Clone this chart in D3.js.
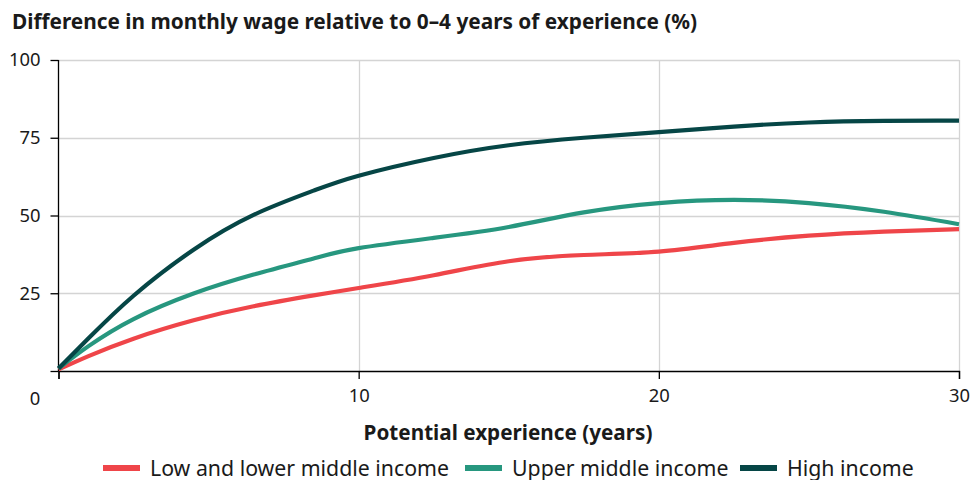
<!DOCTYPE html>
<html>
<head>
<meta charset="utf-8">
<script src="https://cdn.jsdelivr.net/npm/d3@7"></script>
<style>
  body { margin: 0; background: #fff; }
  svg { font-family: "Noto Sans", "Open Sans", sans-serif; }
</style>
</head>
<body>
<svg id="chart" width="972" height="480"></svg>
<script>
// data
let years = [0, 1, 2.5, 4.5, 6.5, 8.5, 10, 12.5, 15, 17.5, 20, 22.5, 25, 27.5, 30];
let lowIncome = [0.5, 4.8, 10.4, 16.3, 20.8, 24.3, 26.7, 30.8, 35.3, 37.3, 38.4, 41.2, 43.5, 44.8, 45.6];
let upperMiddle = [0.8, 8, 16.7, 24.9, 31, 36.2, 39.5, 42.8, 46.3, 51, 54, 55, 54, 51.2, 47.2];
let highIncome = [0.8, 10.5, 24.2, 39, 50.2, 58, 62.8, 68.5, 72.6, 75, 76.8, 78.6, 79.9, 80.4, 80.5];
let seriesNames = ["Low and lower middle income", "Upper middle income", "High income"];
let xTicks = [10, 20, 30];
let yTicks = [25, 50, 75, 100];

let colors = ["#ef4549", "#27977f", "#064646"];
let gridColor = "#d4d4d4";

let svg = d3.select("#chart");
let margin = {left: 58.5, right: 13, top: 60, bottom: 109};
let width = 972, height = 480;

let x = d3.scaleLinear().domain([0, 30]).range([margin.left, width - margin.right]);
let y = d3.scaleLinear().domain([0, 100]).range([height - margin.bottom, margin.top]);

// title
svg.append("text")
  .attr("x", 12)
  .attr("y", 29)
  .attr("font-size", 20.8)
  .attr("font-weight", "bold")
  .attr("fill", "#1a1a1a")
  .text("Difference in monthly wage relative to 0\u20134 years of experience (%)");

// grid
svg.append("g")
  .selectAll("line")
  .data(yTicks)
  .join("line")
  .attr("x1", x(0))
  .attr("x2", x(30))
  .attr("y1", d => Math.round(y(d)) + 0.5)
  .attr("y2", d => Math.round(y(d)) + 0.5)
  .attr("stroke", gridColor)
  .attr("stroke-width", 1.3);

svg.append("g")
  .selectAll("line")
  .data(xTicks)
  .join("line")
  .attr("x1", d => Math.round(x(d)) + 0.5)
  .attr("x2", d => Math.round(x(d)) + 0.5)
  .attr("y1", y(100))
  .attr("y2", y(0))
  .attr("stroke", gridColor)
  .attr("stroke-width", 1.3);

// axes
let yAxis = svg.append("g")
  .attr("transform", `translate(${x(0)},0)`)
  .call(d3.axisLeft(y).tickValues([0].concat(yTicks)).tickSize(8).tickFormat(d => d === 0 ? "" : d));
let xAxis = svg.append("g")
  .attr("transform", `translate(0,${y(0)})`)
  .call(d3.axisBottom(x).tickValues([0].concat(xTicks)).tickSize(8).tickFormat(d => d === 0 ? "" : d));

[yAxis, xAxis].forEach(a => {
  a.select(".domain").attr("stroke", "#000").attr("stroke-width", 1.3);
  a.selectAll(".tick line").attr("stroke", "#000").attr("stroke-width", 1.3);
  a.selectAll("text")
    .attr("font-size", 18.4)
    .attr("font-family", "'Noto Sans', sans-serif")
    .attr("fill", "#1a1a1a");
});
yAxis.selectAll(".domain").attr("d", `M0,${y(0)}V${y(100)}H0`);
yAxis.selectAll(".tick text").attr("x", -18);
xAxis.selectAll(".tick text").attr("y", 18);

// shared zero label
svg.append("text")
  .attr("x", 35)
  .attr("y", y(0) + 34)
  .attr("text-anchor", "middle")
  .attr("font-size", 18.4)
  .attr("fill", "#1a1a1a")
  .text("0");

// axis title
svg.append("text")
  .attr("x", 508)
  .attr("y", 440)
  .attr("text-anchor", "middle")
  .attr("font-size", 20.7)
  .attr("font-weight", "bold")
  .attr("fill", "#1a1a1a")
  .text("Potential experience (years)");

// lines
let series = [lowIncome, upperMiddle, highIncome];
let line = d3.line()
  .x((d, i) => x(years[i]))
  .y(d => y(d))
  .curve(d3.curveNatural);

series.forEach((s, i) => {
  svg.append("path")
    .datum(s)
    .attr("d", line)
    .attr("fill", "none")
    .attr("stroke", colors[i])
    .attr("stroke-width", 4.2)
    .attr("stroke-linejoin", "round");
});

// legend
let legendX = [103, 465, 740];
let legend = svg.append("g").attr("transform", "translate(0, 468)");
let lg = legend.selectAll("g")
  .data(seriesNames)
  .join("g")
  .attr("transform", (d, i) => `translate(${legendX[i]},0)`);
lg.append("rect")
  .attr("x", 0)
  .attr("y", -3)
  .attr("width", 37)
  .attr("height", 6)
  .attr("fill", (d, i) => colors[i]);
lg.append("text")
  .attr("x", 47)
  .attr("y", 7.5)
  .attr("font-size", 21.3)
  .attr("fill", "#1a1a1a")
  .text(d => d);
</script>
</body>
</html>
